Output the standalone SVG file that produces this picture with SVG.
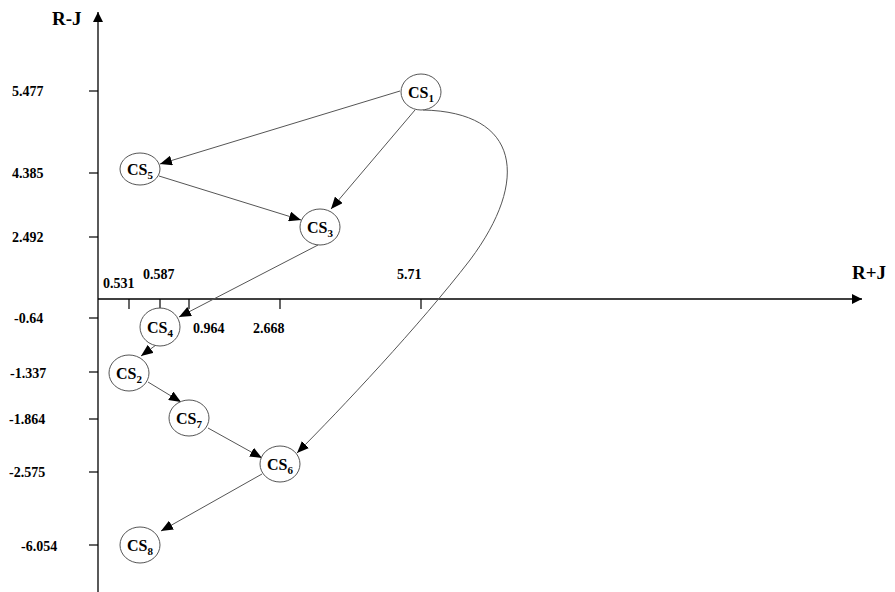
<svg xmlns="http://www.w3.org/2000/svg" width="895" height="592" viewBox="0 0 895 592">
<style>
.ax{stroke:#000;stroke-width:1.3;fill:none}
.tk{stroke:#000;stroke-width:1.2}
text{font-family:"Liberation Serif","Times New Roman","DejaVu Serif",serif;font-weight:bold;fill:#000}
.lbl{font-size:14px}
.ttl{font-size:19px}
.nd ellipse{fill:#fff;stroke:#555;stroke-width:1}
.nd text{font-size:16px;text-anchor:middle}
.nd tspan{font-size:11px}
.ed{stroke:#555;stroke-width:1;fill:none;marker-end:url(#ah)}
</style>
<defs>
<marker id="ah" markerUnits="userSpaceOnUse" markerWidth="14" markerHeight="10" refX="12" refY="5" orient="auto">
<path d="M0,0 L12,5 L0,10 Z" fill="#000"/>
</marker>
<marker id="axh" markerUnits="userSpaceOnUse" markerWidth="12" markerHeight="10" refX="10" refY="5" orient="auto">
<path d="M0,0 L10,5 L0,10 Z" fill="#000"/>
</marker>
</defs>
<g id="axes">
<line class="ax" x1="98" y1="592" x2="98" y2="12" marker-end="url(#axh)"/>
<line class="ax" x1="98" y1="299" x2="862" y2="299" marker-end="url(#axh)"/>
<text class="ttl" x="52" y="25">R-J</text>
<text class="ttl" x="852" y="279">R+J</text>
<line class="tk" x1="89" y1="91" x2="98" y2="91"/>
<line class="tk" x1="89" y1="173" x2="98" y2="173"/>
<line class="tk" x1="89" y1="237" x2="98" y2="237"/>
<line class="tk" x1="89" y1="318" x2="98" y2="318"/>
<line class="tk" x1="89" y1="372" x2="98" y2="372"/>
<line class="tk" x1="89" y1="419" x2="98" y2="419"/>
<line class="tk" x1="89" y1="472" x2="98" y2="472"/>
<line class="tk" x1="89" y1="545" x2="98" y2="545"/>
<text class="lbl" x="12" y="96">5.477</text>
<text class="lbl" x="12" y="178">4.385</text>
<text class="lbl" x="12" y="242">2.492</text>
<text class="lbl" x="14" y="323">-0.64</text>
<text class="lbl" x="10" y="378">-1.337</text>
<text class="lbl" x="9" y="424">-1.864</text>
<text class="lbl" x="9" y="477">-2.575</text>
<text class="lbl" x="21" y="551">-6.054</text>
<line class="tk" x1="129" y1="299" x2="129" y2="309"/>
<line class="tk" x1="160" y1="299" x2="160" y2="309"/>
<line class="tk" x1="189" y1="299" x2="189" y2="309"/>
<line class="tk" x1="280" y1="299" x2="280" y2="309"/>
<line class="tk" x1="421" y1="299" x2="421" y2="309"/>
<text class="lbl" x="103" y="288">0.531</text>
<text class="lbl" x="143" y="279">0.587</text>
<text class="lbl" x="193" y="333">0.964</text>
<text class="lbl" x="253" y="333">2.668</text>
<text class="lbl" x="397" y="279">5.71</text>
</g>
<g id="connectors">
<line class="ed" x1="400" y1="91" x2="160" y2="164"/>
<line class="ed" x1="415" y1="110" x2="331" y2="209"/>
<line class="ed" x1="159" y1="176" x2="301" y2="220"/>
<line class="ed" x1="318" y1="245" x2="179" y2="317"/>
<line class="ed" x1="156" y1="345" x2="141" y2="356"/>
<line class="ed" x1="148" y1="382" x2="181" y2="402"/>
<line class="ed" x1="208" y1="428" x2="262" y2="458"/>
<line class="ed" x1="262" y1="474" x2="161" y2="531"/>
<path class="ed" d="M423,110 C520,112 530,180 470,260 C420,325 340,410 297,453"/>
</g>
<g id="CS1" class="nd"><ellipse cx="421" cy="92" rx="20" ry="18"/><text x="421" y="98">CS<tspan dy="4">1</tspan></text></g>
<g id="CS5" class="nd"><ellipse cx="140" cy="169" rx="20" ry="16"/><text x="140" y="175">CS<tspan dy="4">5</tspan></text></g>
<g id="CS3" class="nd"><ellipse cx="320" cy="227" rx="20" ry="18"/><text x="320" y="233">CS<tspan dy="4">3</tspan></text></g>
<g id="CS4" class="nd"><ellipse cx="160" cy="327" rx="20" ry="19"/><text x="160" y="333">CS<tspan dy="4">4</tspan></text></g>
<g id="CS2" class="nd"><ellipse cx="129" cy="373" rx="20" ry="18"/><text x="129" y="379">CS<tspan dy="4">2</tspan></text></g>
<g id="CS7" class="nd"><ellipse cx="189" cy="418" rx="20" ry="18"/><text x="189" y="424">CS<tspan dy="4">7</tspan></text></g>
<g id="CS6" class="nd"><ellipse cx="280" cy="464" rx="20" ry="18"/><text x="280" y="470">CS<tspan dy="4">6</tspan></text></g>
<g id="CS8" class="nd"><ellipse cx="140" cy="545" rx="20" ry="18"/><text x="140" y="551">CS<tspan dy="4">8</tspan></text></g>
</svg>
